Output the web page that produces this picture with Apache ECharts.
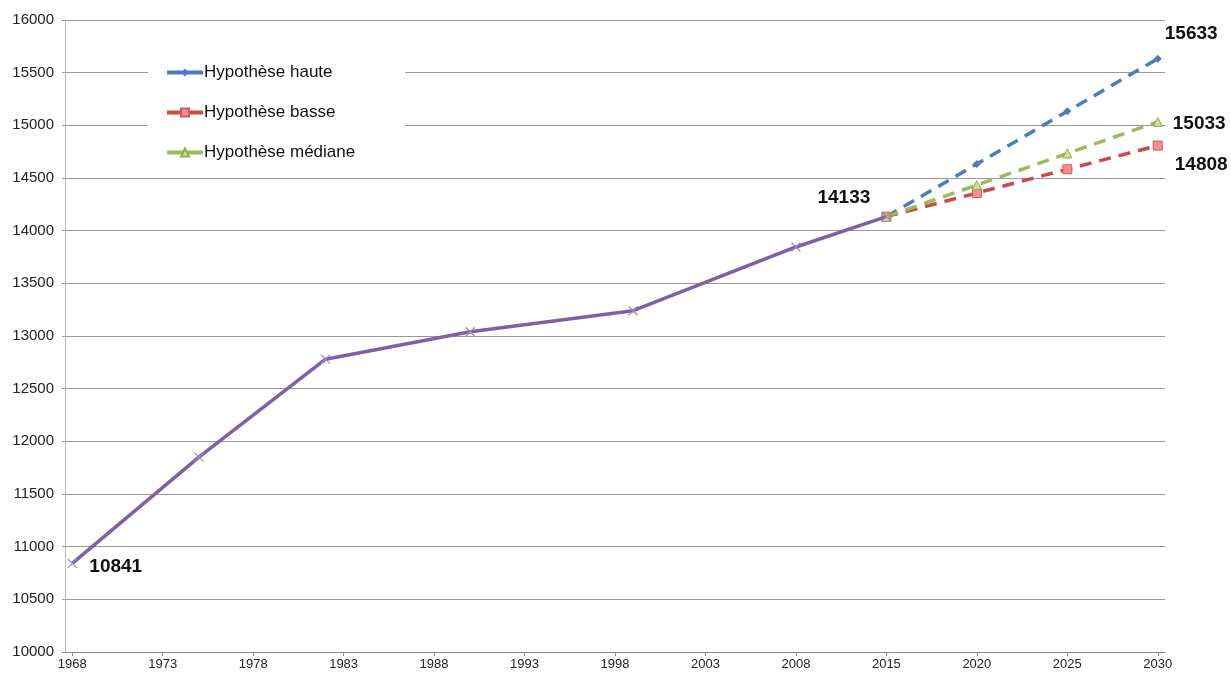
<!DOCTYPE html>
<html>
<head>
<meta charset="utf-8">
<title>Hypothèses de population</title>
<script src="https://cdn.jsdelivr.net/npm/echarts@6/dist/echarts.min.js"></script>
<style>
  html, body { margin: 0; padding: 0; background: #fff; }
  #main { width: 1231px; height: 675px; }
</style>
</head>
<body>
<div id="main"></div>
<script type="text/javascript">
// positions on the x axis (axis units = years since 1968, as drawn)
var tickLabels = ['1968', '1973', '1978', '1983', '1988', '1993', '1998', '2003', '2008', '2015', '2020', '2025', '2030'];
var histX = [0, 7, 14, 22, 31, 40, 45];
var histValues = [10841, 11850, 12780, 13040, 13240, 13845, 14133];
var projX = [45, 50, 55, 60];
var hauteValues = [14133, 14633, 15133, 15633];
var basseValues = [14133, 14358, 14583, 14808];
var medianeValues = [14133, 14433, 14733, 15033];

function pairs(xs, ys) {
    return xs.map(function (x, i) { return [x, ys[i]]; });
}

var labelStyle = { fontSize: 19, fontWeight: 'bold', color: '#111', fontFamily: 'Liberation Sans, Arial, sans-serif' };

// value label on one point of a series
function withLabel(data, idx, pos, offset) {
    data[idx] = {
        value: data[idx],
        label: Object.assign({ show: true, position: pos, offset: offset, formatter: function (p) { return p.value[1]; } }, labelStyle)
    };
    return data;
}

var histData = withLabel(withLabel(pairs(histX, histValues), 0, 'right', [7, 3]), 6, 'left', [-6, -19]);
var hauteData = withLabel(pairs(projX, hauteValues), 3, 'right', [-2, -25]);
var basseData = withLabel(pairs(projX, basseValues), 3, 'right', [7, 19]);
var medianeData = withLabel(pairs(projX, medianeValues), 3, 'right', [5, 2]);

var myChart = echarts.init(document.getElementById('main'));

var option = {
    animation: false,
    textStyle: { fontFamily: 'Liberation Sans, Arial, sans-serif' },
    grid: { left: 65, right: 66, top: 20, bottom: 23, containLabel: false },
    legend: {
        orient: 'vertical',
        left: 148,
        top: 56,
        backgroundColor: '#fff',
        padding: [8, 50, 10, 17],
        itemGap: 23,
        itemWidth: 36,
        itemHeight: 10,
        lineStyle: { width: 4, type: 'solid' },
        textStyle: { fontSize: 17, color: '#111', padding: [0, 0, 0, -4] },
        data: ['Hypothèse haute', 'Hypothèse basse', 'Hypothèse médiane']
    },
    xAxis: {
        type: 'value',
        min: -0.4,
        max: 60.4,
        splitLine: { show: false },
        axisLine: { lineStyle: { color: '#888' } },
        axisTick: { show: true, length: 4, customValues: [0, 5, 10, 15, 20, 25, 30, 35, 40, 45, 50, 55, 60], lineStyle: { color: '#888' } },
        axisLabel: {
            customValues: [0, 5, 10, 15, 20, 25, 30, 35, 40, 45, 50, 55, 60],
            color: '#222',
            fontSize: 13,
            margin: 6,
            formatter: function (v) { return tickLabels[Math.round(v / 5)]; }
        }
    },
    yAxis: {
        type: 'value',
        min: 10000,
        max: 16000,
        interval: 500,
        axisLine: { show: true, onZero: false, lineStyle: { color: '#bbb' } },
        axisTick: { show: true, length: 3, lineStyle: { color: '#999' } },
        splitLine: { lineStyle: { color: '#999', width: 1 } },
        axisLabel: { color: '#222', fontSize: 15, margin: 11, formatter: function (v) { return String(v); } }
    },
    series: [
        {
            name: 'Population',
            type: 'line',
            data: histData,
            symbol: 'path://M0,0 L10,10 M10,0 L0,10',
            symbolSize: 9,
            itemStyle: { color: 'rgba(0,0,0,0)', borderColor: '#9c8bbf', borderWidth: 1.2 },
            lineStyle: { color: '#7d60a6', width: 3.5 },
            z: 5
        },
        {
            name: 'Hypothèse haute',
            type: 'line',
            data: hauteData,
            symbol: 'diamond',
            symbolSize: 8,
            itemStyle: { color: '#4a7ebb' },
            lineStyle: { color: '#4a7ebb', width: 3.5, type: [12, 8] }
        },
        {
            name: 'Hypothèse basse',
            type: 'line',
            data: basseData,
            symbol: 'rect',
            symbolSize: 9,
            itemStyle: { color: '#f29090', borderColor: '#d05a5a', borderWidth: 1 },
            lineStyle: { color: '#c94a47', width: 3.5, type: [12, 8] }
        },
        {
            name: 'Hypothèse médiane',
            type: 'line',
            data: medianeData,
            symbol: 'triangle',
            symbolSize: 9,
            itemStyle: { color: '#c6e29c', borderColor: '#8db04a', borderWidth: 1 },
            lineStyle: { color: '#9bbb59', width: 3.5, type: [12, 8] }
        }
    ]
};

myChart.setOption(option);
</script>
</body>
</html>
